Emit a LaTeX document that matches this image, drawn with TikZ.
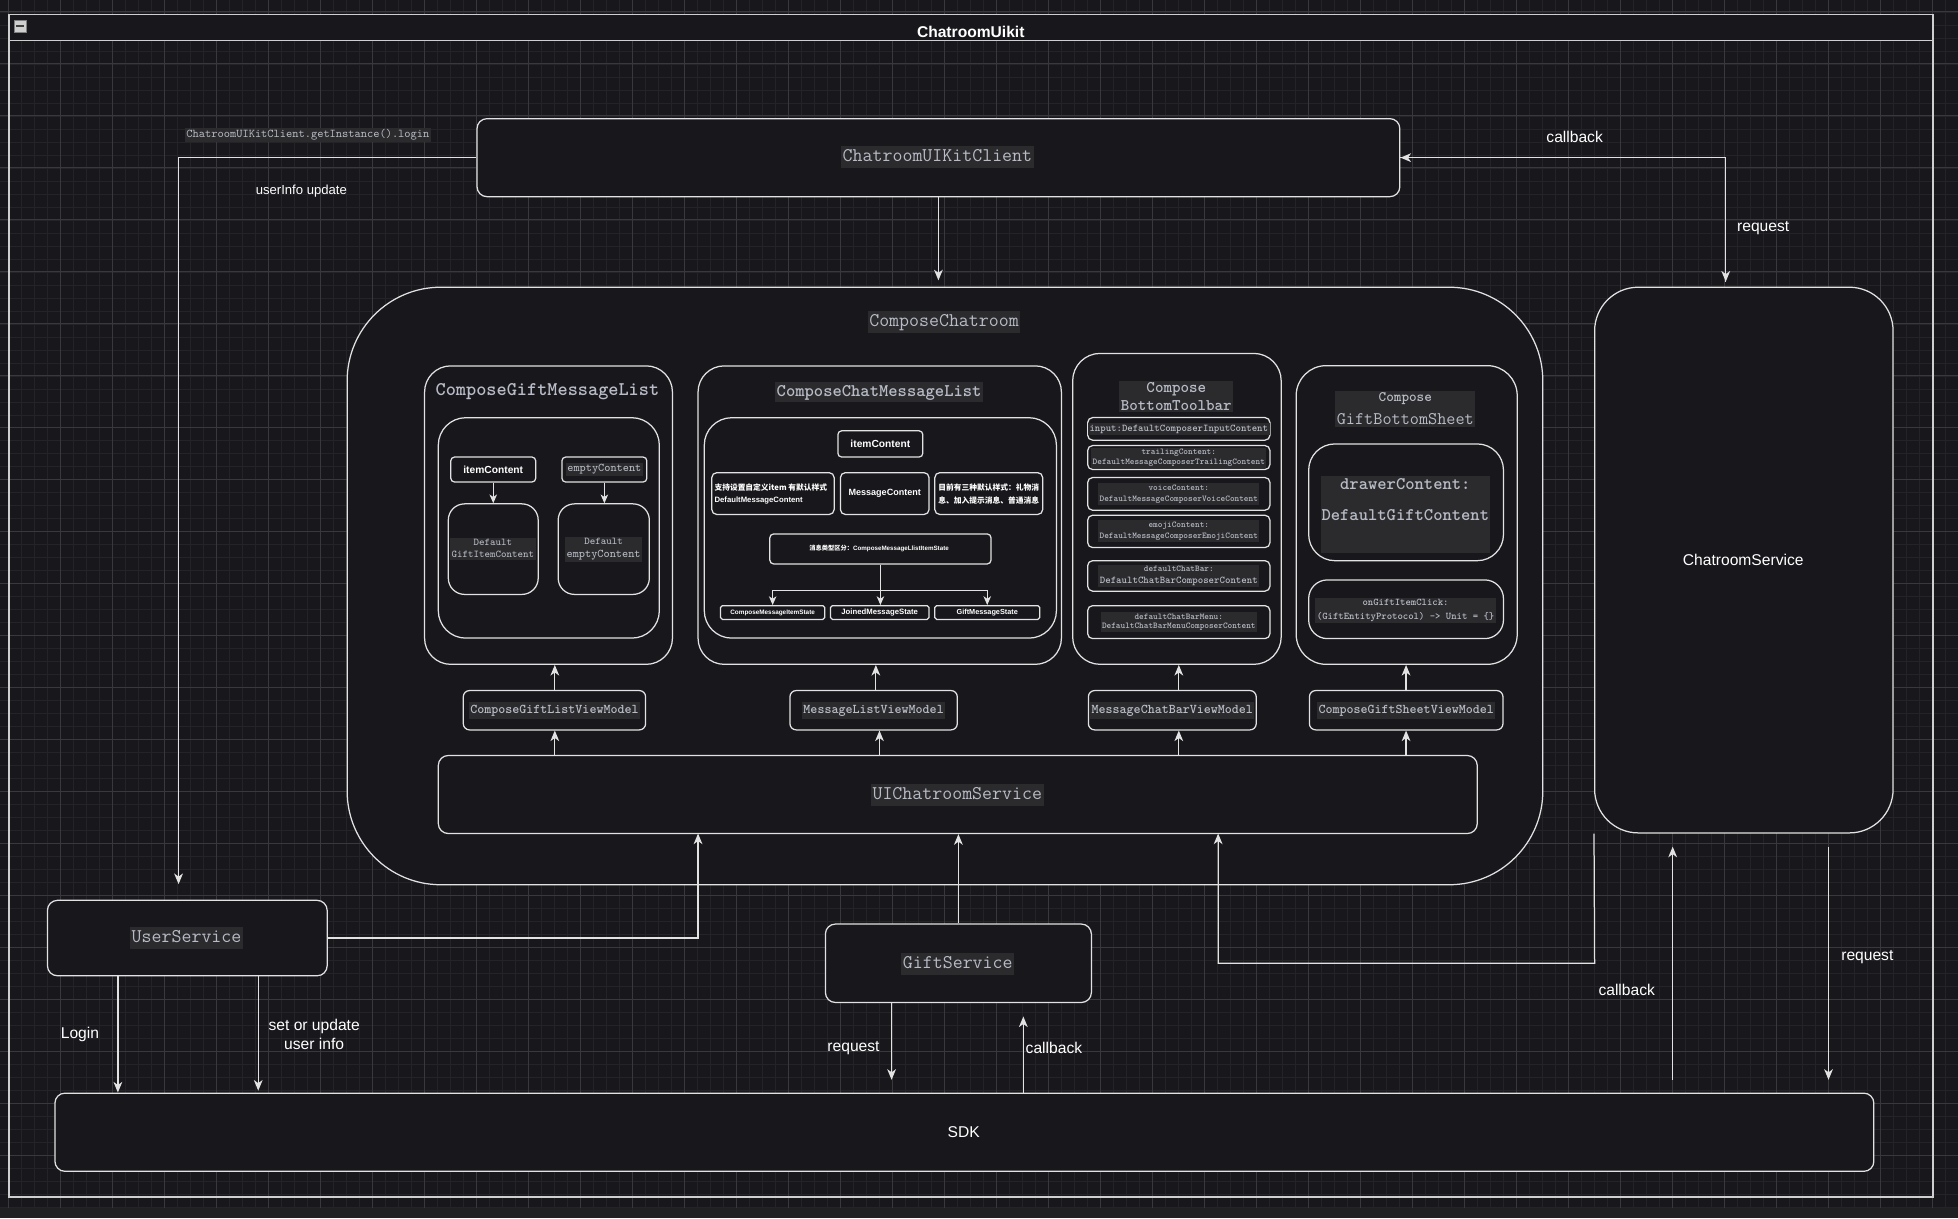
\documentclass[tikz,border=0pt]{standalone}
\usepackage{fontspec}
\setmainfont{Liberation Sans}
\newfontfamily\cjk{Noto Sans CJK SC}
\usetikzlibrary{arrows.meta,fit,calc}
\definecolor{bgc}{HTML}{18171C}
\definecolor{gmaj}{HTML}{38383D}
\definecolor{gmin}{HTML}{242328}
\definecolor{edgec}{HTML}{E2E2E2}
\definecolor{framec}{HTML}{CFCFCF}
\definecolor{monoc}{HTML}{B8BCC6}
\definecolor{hlbg}{HTML}{2B2B2E}
\definecolor{stripc}{HTML}{202022}
\definecolor{iconc}{HTML}{CFCFCF}
\newcommand\myfs[2]{\fontsize{#1pt}{#2pt}\selectfont}
\newcommand\mkbox[6]{\node[box, rounded corners=#6pt, fit={(#2,#3)(#4,#5)}] (#1) {};}
\begin{document}
\begin{tikzpicture}[x=1pt,y=-1pt,
  box/.style={draw=edgec, line width=1pt, fill=bgc, inner sep=0pt},
  arr/.style={draw=edgec, line width=1pt, -{Stealth[length=8.5pt,width=7pt,inset=2.5pt]}},
  arrs/.style={draw=edgec, line width=.9pt, -{Stealth[length=7pt,width=6pt,inset=2pt]}},
  tmono/.style={text=monoc, inner sep=1.2pt},
  hl/.style={tmono, fill=hlbg},
  lbl/.style={text=white, inner sep=1pt, font=\myfs{12.5}{15}},
  lblb/.style={text=white, inner sep=1pt}
]
\useasboundingbox (0,0) rectangle (1568,975.4);
\fill[bgc] (0,0) rectangle (1568,975.4);
% grid
\foreach \k in {-1,...,150}{\draw[gmin,line width=.6pt] ({6.97+10.4075*\k},0) -- ({6.97+10.4075*\k},967.2);}
\foreach \k in {-1,...,92}{\draw[gmin,line width=.6pt] (0,{9.6+10.4075*\k}) -- (1568,{9.6+10.4075*\k});}
\foreach \k in {0,...,37}{\draw[gmaj,line width=.8pt] ({6.97+41.63*\k},0) -- ({6.97+41.63*\k},967.2);}
\foreach \k in {0,...,22}{\draw[gmaj,line width=.8pt] (0,{9.6+41.63*\k}) -- (1568,{9.6+41.63*\k});}
\fill[stripc] (0,967.2) rectangle (1568,975.4);

% container frame
\node[draw=framec, line width=1.2pt, inner sep=0pt, fit={(7.1,11.7)(1548,958.6)}] (uikit) {};
\node[draw=framec, fill=bgc, line width=1.2pt, inner sep=0pt, fit={(7.1,11.7)(1548,32.6)}] (tbar) {};
\node[anchor=base, text=white, font=\bfseries\myfs{12.5}{15}] (title) at (777.4,29.9) {ChatroomUikit};
\node[fill=iconc, draw=gray, line width=.4pt, minimum width=9.3pt, minimum height=8.9pt, inner sep=0pt] (collapse) at (16,21) {};
\node[fill=black!75, minimum width=6pt, minimum height=1.6pt, inner sep=0pt] (collapsebar) at (collapse.center) {};

% main boxes
\mkbox{client}{382}{95}{1121}{157.5}{8}
\mkbox{cc}{278}{230}{1235.5}{708.5}{75}
\mkbox{cs}{1277}{230}{1516}{667}{35}
\mkbox{us}{38}{721}{262}{781.4}{8}
\mkbox{gsv}{661}{740}{874}{802.8}{8}
\mkbox{sdk}{44}{875.4}{1500.6}{938}{8}

% gift message list
\mkbox{gml}{340}{293}{538.5}{532}{21}
\mkbox{gmlin}{351}{334.5}{528}{511}{22}
\mkbox{gic}{361}{366}{429}{386}{3}
\mkbox{gec}{450}{366}{518}{386}{3}
\mkbox{gdi}{359}{403.5}{431}{476}{13}
\mkbox{gde}{447}{403.5}{520}{476}{13}

% chat message list
\mkbox{cml}{559}{293}{850}{532}{21}
\mkbox{cmlin}{564}{334.5}{846}{511}{22}
\mkbox{cic}{671}{345}{739}{366}{3}
\mkbox{ccust}{570}{378.5}{668}{412}{4}
\mkbox{cmc}{673}{378.5}{744}{412}{4}
\mkbox{cstyle}{748.6}{378.5}{835}{412}{4}
\mkbox{ctype}{616.5}{427.6}{793.6}{451.6}{3}
\mkbox{cst1}{577}{485}{660.5}{496}{1.5}
\mkbox{cst2}{665}{485}{744}{496}{1.5}
\mkbox{cst3}{748.6}{485}{832.6}{496}{1.5}

% bottom toolbar
\mkbox{tb}{859}{283}{1026}{532}{22}
\mkbox{ra}{871}{334.4}{1017}{352.5}{4}
\mkbox{rb}{871}{356.8}{1017}{376}{4}
\mkbox{rc}{871}{382.4}{1017}{408.6}{4}
\mkbox{rd}{871}{412.6}{1017}{438.5}{4}
\mkbox{re}{871}{449}{1017}{473.4}{4}
\mkbox{rf}{871}{485}{1017}{511.4}{4}

% gift bottom sheet
\mkbox{gs}{1038}{292.8}{1215}{532}{24}
\mkbox{dc}{1048}{355.5}{1204}{449}{21}
\mkbox{oc}{1048}{464.4}{1204}{511.4}{15}

% view models and service
\mkbox{vm1}{371}{553}{517}{584.5}{5}
\mkbox{vm2}{632.6}{553}{766.6}{584.5}{5}
\mkbox{vm3}{871.6}{553}{1006}{584.5}{5}
\mkbox{vm4}{1048.6}{553}{1203.6}{584.5}{5}
\mkbox{uic}{351}{605}{1183}{667.5}{8}

% ---------- connectors ----------
\coordinate (usTip) at (143,708);
\draw[arr] (client.west) -| (usTip);
\draw[arr, shorten >=5pt] (client.south) -- (client.south |- cc.north);
\coordinate (csTop) at (1382,230);
\draw[arr, shorten >=4.5pt] (client.east) -| (csTop);
\draw[arr, shorten <=4.5pt] (csTop) |- (client.east);

\coordinate (a1) at (444.3,605); \draw[arr] (a1) -- (a1 |- vm1.south);
\coordinate (b1) at (444.3,553); \draw[arr] (b1) -- (b1 |- gml.south);
\coordinate (a2) at (704.3,605); \draw[arr] (a2) -- (a2 |- vm2.south);
\coordinate (b2) at (701.4,553); \draw[arr] (b2) -- (b2 |- cml.south);
\coordinate (a3) at (944,605); \draw[arr] (a3) -- (a3 |- vm3.south);
\coordinate (b3) at (944,553); \draw[arr] (b3) -- (b3 |- tb.south);
\coordinate (a4) at (1126,605); \draw[arr] (a4) -- (a4 |- vm4.south);
\coordinate (b4) at (1126,553); \draw[arr] (b4) -- (b4 |- gs.south);

\coordinate (uin1) at (559,667.5);
\draw[arr] (us.east) -| (uin1);
\draw[arr] (gsv.north) -- (gsv.north |- uic.south);
\coordinate (uin3) at (975.5,667.5);
\coordinate (csbend) at (1277,771.3);
\draw[arr] (cs.south west) -- (csbend) -| (uin3);

\coordinate (lg) at (94.4,781.4); \draw[arr] (lg) -- (lg |- sdk.north);
\coordinate (su) at (206.8,781.4); \draw[arr, shorten >=1.5pt] (su) -- (su |- sdk.north);
\coordinate (gr1) at (714,802.8); \coordinate (gr2) at (714,864.7); \draw[arr] (gr1) -- (gr2);
\coordinate (gc1) at (819.5,875.4); \coordinate (gc2) at (819.5,814); \draw[arr] (gc1) -- (gc2);
\coordinate (sc1) at (1339.5,864.7); \coordinate (sc2) at (1339.5,678); \draw[arr] (sc1) -- (sc2);
\coordinate (sr1) at (1464.3,678); \coordinate (sr2) at (1464.3,864.7); \draw[arr] (sr1) -- (sr2);

\draw[arrs] (gic.south) -- (gdi.north);
\draw[arrs] (gec.south) -- (gec.south |- gde.north);
\draw[arrs] (ctype.south) -- (ctype.south |- cst2.north);
\draw[arrs] (ctype.south) -- ++(0,20.8) -| (cst1.north);
\draw[arrs] (ctype.south) -- ++(0,20.8) -| (cst3.north);

% ---------- texts ----------
\node[hl, font=\ttfamily\myfs{9.5}{11}] (logintxt) at (246.6,108) {ChatroomUIKitClient.getInstance().login};
\node[lbl, font=\myfs{10.5}{12}] (uiutxt) at (241.3,153) {userInfo update};
\node[hl, font=\ttfamily\myfs{15.5}{18}, text height=11pt, text depth=4pt] (clienttxt) at (750.7,126) {ChatroomUIKitClient};
\node[lbl] (cb1) at (1261,110) {callback};
\node[lbl] (rq1) at (1412,183) {request};
\node[hl, font=\ttfamily\myfs{15.5}{18}, text height=11pt, text depth=4pt] (cctxt) at (756,258) {ComposeChatroom};
\node[lbl] (cstxt) at (1396,448) {ChatroomService};

\node[tmono, font=\ttfamily\bfseries\myfs{15.5}{18}] (gmltxt) at (438.4,314) {ComposeGiftMessageList};
\node[lblb, font=\bfseries\myfs{8.2}{10}] (gictxt) at (395,376) {itemContent};
\node[hl, font=\ttfamily\myfs{9.4}{11}] (gectxt) at (484,376) {emptyContent};
\node[hl, align=center, font=\ttfamily\myfs{8.3}{9.6}] (gditxt) at (394.7,439.5) {Default\\GiftItemContent};
\node[hl, align=center, font=\ttfamily\myfs{8.3}{10.2}] (gdetxt) at (483.4,440) {Default\\{\myfs{9.4}{10.2}emptyContent}};

\node[hl, font=\ttfamily\bfseries\myfs{14.2}{17}, text height=10pt, text depth=3.5pt] (cmltxt) at (704,314) {ComposeChatMessageList};
\node[lblb, font=\bfseries\myfs{8.2}{10}] (cictxt) at (705,355.5) {itemContent};
\node[lblb, anchor=west, align=left, font=\bfseries\myfs{6.2}{9.9}] (ccusttxt) at (571,395.5) {{\cjk\bfseries 支持设置自定义item 有默认样式}\\DefaultMessageContent};
\node[lblb, font=\bfseries\myfs{7.25}{9}] (cmctxt) at (708.5,395.3) {MessageContent};
\node[lblb, anchor=west, align=left, font=\cjk\bfseries\myfs{6.2}{9.9}] (cstyletxt) at (750.3,395.5) {目前有三种默认样式：礼物消\\息、加入提示消息、普通消息};
\node[lblb, font=\bfseries\myfs{5}{6}] (ctypetxt) at (704,439.5) {{\cjk\bfseries 消息类型区分：}ComposeMessageLlistItemState};
\node[lblb, font=\bfseries\myfs{5.1}{6}] (cst1txt) at (cst1.center) {ComposeMessageItemState};
\node[lblb, font=\bfseries\myfs{6.2}{7}] (cst2txt) at (cst2.center) {JoinedMessageState};
\node[lblb, font=\bfseries\myfs{5.85}{7}] (cst3txt) at (cst3.center) {GiftMessageState};

\node[hl, align=center, font=\ttfamily\bfseries\myfs{13}{13.7}] (tbtxt) at (942,317.5) {Compose\\BottomToolbar};
\node[hl, font=\ttfamily\bfseries\myfs{8.25}{10}] (ratxt) at (944,343.5) {input:DefaultComposerInputContent};
\node[hl, align=center, font=\ttfamily\bfseries\myfs{7.1}{7.4}] (rbtxt) at (944,366.6) {trailingContent:\\DefaultMessageComposerTrailingContent};
\node[hl, align=center, font=\ttfamily\bfseries\myfs{7.1}{8.8}] (rctxt) at (944,395.6) {voiceContent:\\DefaultMessageComposerVoiceContent};
\node[hl, align=center, font=\ttfamily\bfseries\myfs{7.1}{9.3}] (rdtxt) at (944,425.5) {emojiContent:\\DefaultMessageComposerEmojiContent};
\node[hl, align=center, font=\ttfamily\bfseries\myfs{7.1}{9.1}] (retxt) at (944,461.2) {defaultChatBar:\\{\myfs{8.3}{9.1}DefaultChatBarComposerContent}};
\node[hl, align=center, font=\ttfamily\bfseries\myfs{7.1}{7.9}] (rftxt) at (944,498.3) {defaultChatBarMenu:\\DefaultChatBarMenuComposerContent};

\node[hl, align=center, font=\ttfamily\myfs{14.2}{18.5}] (gstxt) at (1125.4,327.5) {{\bfseries\myfs{11.6}{18.5}Compose}\\GiftBottomSheet};
\node[fill=hlbg, inner sep=0pt, fit={(1058,381)(1193.5,443)}] (dcbg) {};
\node[tmono, font=\ttfamily\bfseries\myfs{14.2}{17}] (dctxt1) at (1125.4,387.5) {drawerContent:};
\node[tmono, font=\ttfamily\bfseries\myfs{14.2}{17}] (dctxt2) at (1125.4,412.3) {DefaultGiftContent};
\node[hl, align=center, font=\ttfamily\bfseries\myfs{8.2}{11}] (octxt) at (1125.6,488.8) {onGiftItemClick:\\(GiftEntityProtocol) -> Unit = \{\}};

\node[hl, font=\ttfamily\bfseries\myfs{10.7}{12}, text height=8pt, text depth=3.5pt] (vm1txt) at (vm1.center) {ComposeGiftListViewModel};
\node[hl, font=\ttfamily\bfseries\myfs{10.7}{12}, text height=8pt, text depth=3.5pt] (vm2txt) at (vm2.center) {MessageListViewModel};
\node[hl, font=\ttfamily\bfseries\myfs{10.7}{12}, text height=8pt, text depth=3.5pt] (vm3txt) at (vm3.center) {MessageChatBarViewModel};
\node[hl, font=\ttfamily\bfseries\myfs{10.7}{12}, text height=8pt, text depth=3.5pt] (vm4txt) at (vm4.center) {ComposeGiftSheetViewModel};
\node[hl, font=\ttfamily\myfs{15.5}{18}, text height=11pt, text depth=4pt] (uictxt) at (766.6,636.5) {UIChatroomService};
\node[hl, font=\ttfamily\myfs{15.5}{18}, text height=11pt, text depth=4pt] (ustxt) at (149.4,751) {UserService};
\node[hl, font=\ttfamily\myfs{15.5}{18}, text height=11pt, text depth=4pt] (gsvtxt) at (767,772) {GiftService};

\node[lbl] (sdktxt) at (771.7,906.9) {SDK};
\node[lbl] (logintxt2) at (64,828.7) {Login};
\node[lbl, align=center, font=\myfs{12.5}{15}] (setupd) at (251.6,828.2) {set or update\\user info};
\node[lbl] (rq2) at (683.5,839.3) {request};
\node[lbl] (cb2) at (844,839) {callback};
\node[lbl] (cb3) at (1302.7,792.6) {callback};
\node[lbl] (rq3) at (1495.4,766.2) {request};
\end{tikzpicture}
\end{document}
